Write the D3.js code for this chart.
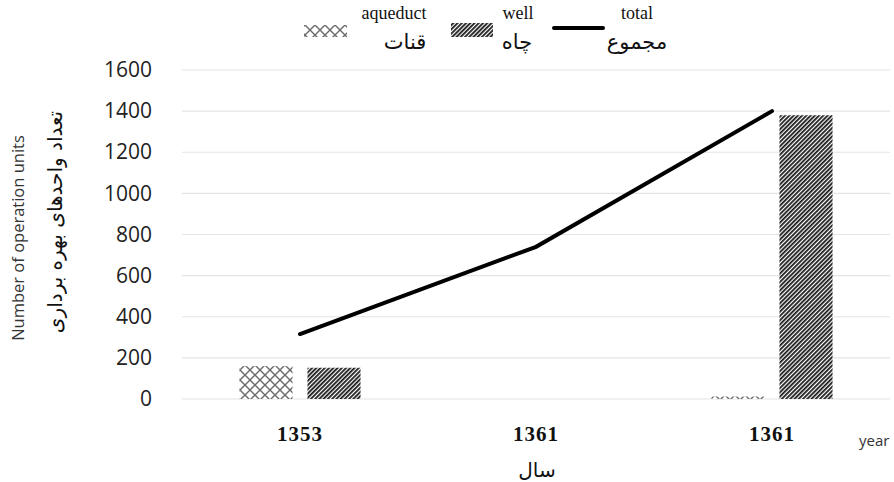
<!DOCTYPE html>
<html><head><meta charset="utf-8">
<script src="https://cdn.jsdelivr.net/npm/d3@7"></script>
<style>body{margin:0;background:#fff}</style>
</head><body>
<script>
const categories = ["1353", "1361", "1361"];
const aqueduct = [160, 0, 12];
const well = [152, 0, 1380];
const total = [316, 740, 1400];
const yTicks = [0, 200, 400, 600, 800, 1000, 1200, 1400, 1600];

(function () {
const W = 894, H = 482;
const svg = d3.select("body").append("svg").attr("width", W).attr("height", H);
const defs = svg.append("defs");

const pw = defs.append("pattern").attr("id", "wellPat").attr("patternUnits", "userSpaceOnUse")
  .attr("width", 3).attr("height", 3).attr("patternTransform", "rotate(45)");
pw.append("rect").attr("width", 3).attr("height", 3).attr("fill", "#fff");
pw.append("line").attr("x1", 0).attr("y1", 0).attr("x2", 0).attr("y2", 3)
  .attr("stroke", "#1a1a1a").attr("stroke-width", 3.6);

const pa = defs.append("pattern").attr("id", "aqPat").attr("patternUnits", "userSpaceOnUse")
  .attr("width", 10).attr("height", 10);
pa.append("rect").attr("width", 10).attr("height", 10).attr("fill", "#fff");
pa.append("path").attr("d", "M0,0L10,10M10,0L0,10").attr("stroke", "#6a6a6a").attr("stroke-width", 1.4).attr("fill", "none");

const pL = 182, pR = 890, pT = 70, pB = 399;
const x = d3.scaleBand().domain(d3.range(categories.length)).range([pL, pR])
  .paddingInner(0.487).paddingOuter(0.2435);
const x1 = d3.scaleBand().domain(["aqueduct", "well"]).range([0, x.bandwidth()]).paddingInner(0.22);
const y = d3.scaleLinear().domain([0, 1600]).range([pB, pT]);

svg.append("g").selectAll("line").data(yTicks).join("line")
  .attr("x1", pL).attr("x2", pR)
  .attr("y1", d => y(d)).attr("y2", d => y(d))
  .attr("stroke", "#e4e4e4").attr("stroke-width", 1.2);

const yAxis = svg.append("g").attr("transform", `translate(${pL},0)`)
  .call(d3.axisLeft(y).tickValues(yTicks).tickFormat(d3.format("d")).tickSize(0).tickPadding(30));
yAxis.select(".domain").remove();
yAxis.selectAll("text").attr("font-family", "Open Sans, sans-serif").attr("font-size", 21)
  .attr("fill", "#222");

const series = [{key: "aqueduct", vals: aqueduct, fill: "url(#aqPat)"},
                {key: "well", vals: well, fill: "url(#wellPat)"}];
series.forEach(s => {
  svg.append("g").selectAll("rect").data(s.vals).join("rect")
    .attr("x", (d, i) => x(i) + x1(s.key))
    .attr("width", x1.bandwidth())
    .attr("y", d => y(d))
    .attr("height", d => y(0) - y(d))
    .attr("fill", s.fill);
});

const line = d3.line().x((d, i) => x(i) + x.bandwidth() / 2).y(d => y(d));
svg.append("path").datum(total).attr("d", line).attr("fill", "none")
  .attr("stroke", "#000").attr("stroke-width", 4).attr("stroke-linecap", "round");

const xAxis = svg.append("g").attr("transform", `translate(0,${pB})`)
  .call(d3.axisBottom(x).tickFormat(i => categories[i]).tickSize(0).tickPadding(27));
xAxis.select(".domain").remove();
xAxis.selectAll("text").attr("font-family", "Liberation Serif, serif").attr("font-weight", "bold")
  .attr("font-size", 21).attr("letter-spacing", 1).attr("fill", "#111");

svg.append("text").attr("x", 859).attr("y", 446).text("year")
  .attr("font-family", "Open Sans, sans-serif").attr("font-size", 15).attr("fill", "#333");
svg.append("text").attr("x", 537).attr("y", 477).attr("text-anchor", "middle").text("سال")
  .attr("font-family", "DejaVu Sans, sans-serif").attr("font-size", 20).attr("fill", "#111");

svg.append("text").attr("transform", "translate(24,238) rotate(-90)").attr("text-anchor", "middle")
  .text("Number of operation units").attr("font-family", "Open Sans, sans-serif")
  .attr("font-size", 16.5).attr("fill", "#333");
svg.append("text").attr("transform", "translate(62,222) rotate(-90)").attr("text-anchor", "middle")
  .text("تعداد واحدهای بهره برداری").attr("font-family", "DejaVu Sans, sans-serif")
  .attr("font-size", 20).attr("fill", "#111");

const lg = svg.append("g");
lg.append("rect").attr("x", 304).attr("y", 25).attr("width", 43).attr("height", 12).attr("fill", "url(#aqPat)");
lg.append("rect").attr("x", 451).attr("y", 23).attr("width", 42).attr("height", 14).attr("fill", "url(#wellPat)");
lg.append("line").attr("x1", 554).attr("x2", 603).attr("y1", 28).attr("y2", 28)
  .attr("stroke", "#000").attr("stroke-width", 4).attr("stroke-linecap", "round");
const legEn = [["aqueduct", 394], ["well", 518], ["total", 637]];
lg.selectAll("text.en").data(legEn).join("text").attr("class", "en")
  .attr("x", d => d[1]).attr("y", 19).attr("text-anchor", "middle").text(d => d[0])
  .attr("font-family", "Liberation Serif, serif").attr("font-size", 18).attr("fill", "#111");
const legFa = [["قنات", 405], ["چاه", 517], ["مجموع", 637]];
lg.selectAll("text.fa").data(legFa).join("text").attr("class", "fa")
  .attr("x", d => d[1]).attr("y", 49).attr("text-anchor", "middle").text(d => d[0])
  .attr("font-family", "DejaVu Sans, sans-serif").attr("font-size", 21).attr("fill", "#111");
})();
</script>
</body></html>
